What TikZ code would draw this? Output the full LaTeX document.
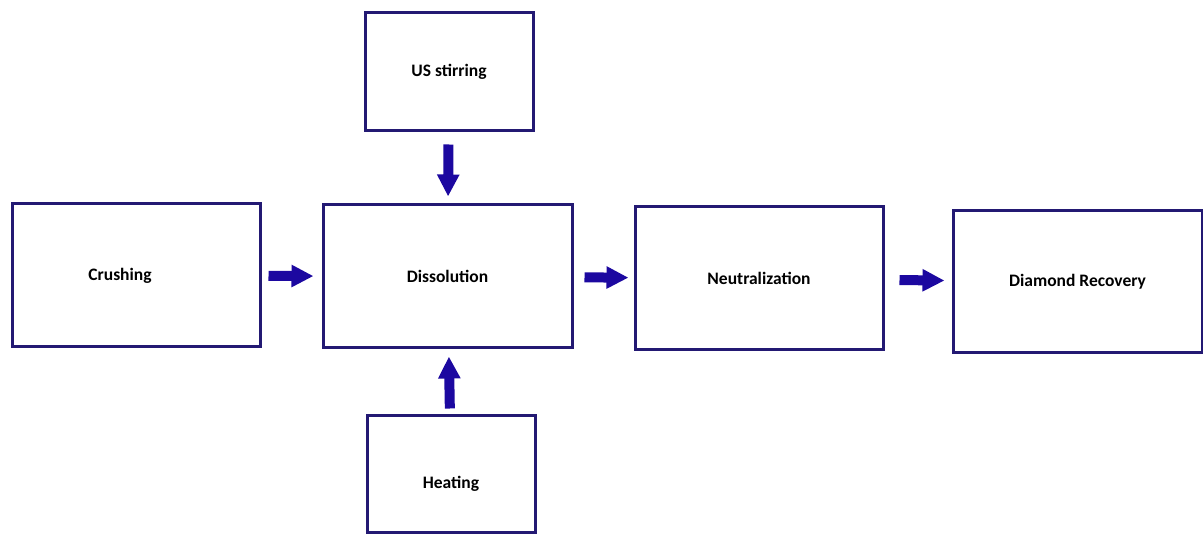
\documentclass[tikz,border=0pt]{standalone}
\usepackage{fontspec}
\setmainfont{Carlito}
\usepackage{xcolor}
\usepackage{tikz}
\usetikzlibrary{arrows.meta}
\definecolor{boxblue}{RGB}{35,25,115}
\definecolor{arrowblue}{RGB}{28,8,160}

\begin{document}
\begin{tikzpicture}[x=1pt,y=-1pt,
	box/.style={draw=boxblue,line width=3pt,fill=white,inner sep=0pt,
		font=\bfseries\fontsize{17.5}{20}\selectfont},
	flow/.style={arrowblue,line width=10pt,-{Triangle[width=21pt,length=22pt]}}]
		\useasboundingbox (0,0) rectangle (1203,534);
		\node[box,minimum width=248pt,minimum height=143pt] (crush) at (136,275.5) {Crushing\hspace*{32pt}};
		\node[box,minimum width=249pt,minimum height=143pt] (diss) at (447.5,276.5) {Dissolution};
		\node[box,minimum width=248pt,minimum height=143pt] (neut) at (759,278.5) {Neutralization};
		\node[box,minimum width=249pt,minimum height=142pt] (recov) at (1077.5,282) {Diamond Recovery};
		\node[box,minimum width=168pt,minimum height=118pt] (stir) at (449,72) {US stirring};
		\node[box,minimum width=168pt,minimum height=117pt] (heat) at (451,474.5) {\raisebox{-14pt}[0pt][0pt]{Heating}};
		%
		\path[flow]
		(crush) edge[shorten <=7pt,shorten >=8pt] (diss)
		(diss) edge[shorten <=11pt,shorten >=5pt] (neut)
		(neut) edge[shorten <=15pt,shorten >=7pt] (recov)
		(stir) edge[shorten <=12pt,shorten >=7pt] (diss)
		(heat) edge[shorten <=6pt,shorten >=7pt] (diss);
		\end{tikzpicture}
\end{document}
